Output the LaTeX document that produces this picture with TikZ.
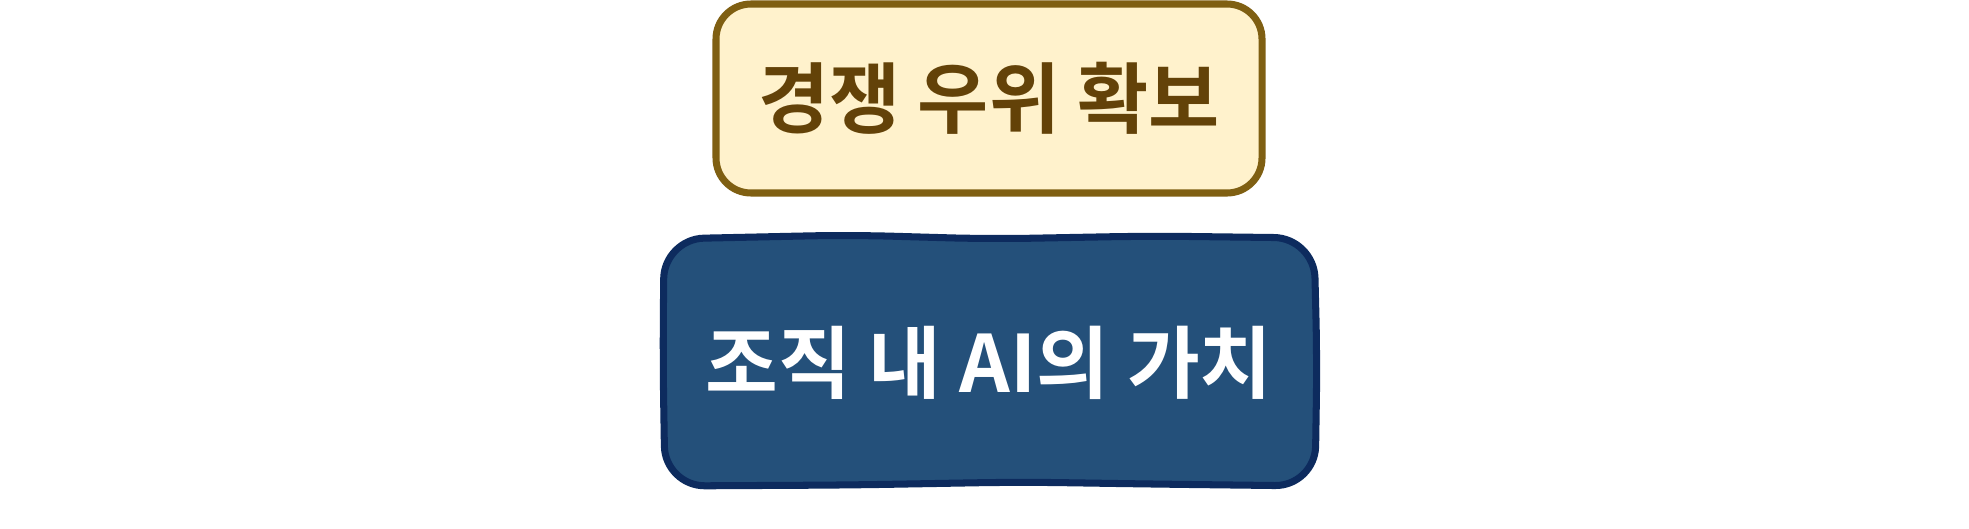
\documentclass[tikz,border=0pt]{standalone}
\usepackage{fontspec}
\newfontfamily\krfont{Noto Sans CJK KR Bold}
\definecolor{goldfill}{HTML}{FFF2CC}
\definecolor{golddraw}{HTML}{7F5F12}
\definecolor{goldtext}{HTML}{634208}
\definecolor{bluefill}{HTML}{24507A}
\definecolor{bluedraw}{HTML}{0D2B5E}
\begin{document}
\begin{tikzpicture}[
    box/.style={line width=2pt, align=center,
      font=\krfont\fontsize{22}{26}\selectfont}
  ]
  \useasboundingbox (0,0) rectangle (19.69,-5.28);
  \node[box, draw, fill=goldfill, draw=golddraw, text=goldtext,
    rounded corners=0.35cm, minimum width=5.46cm, minimum height=1.89cm]
    (goal) at (9.89,-0.985) {경쟁 우위 확보};
  % hand-drawn outline of the lower box
  \draw[line width=2pt, draw=bluedraw, fill=bluefill, rounded corners=0.4cm]
    (6.63,-3.6) -- (6.64,-2.39) -- (8.5,-2.35) -- (9.9,-2.39)
    -- (11.5,-2.36) -- (13.14,-2.38) -- (13.17,-3.6) -- (13.15,-4.86)
    -- (11.5,-4.84) -- (10.2,-4.82) -- (8.5,-4.85) -- (6.65,-4.86) -- cycle;
  \node[box, text=white, font=\krfont\fontsize{22.5}{26}\selectfont]
    (value) at (9.89,-3.63) {조직 내 AI의 가치};
\end{tikzpicture}
\end{document}
